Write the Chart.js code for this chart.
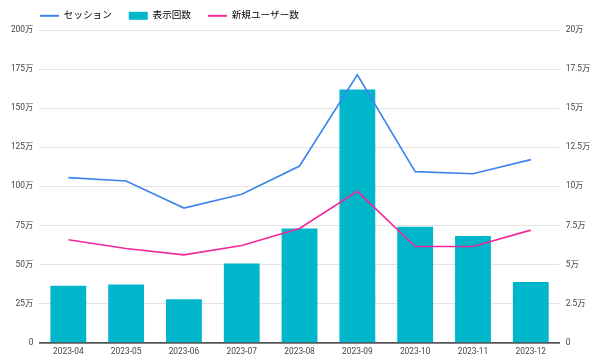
<!DOCTYPE html>
<html>
<head>
<meta charset="utf-8">
<script src="https://cdn.jsdelivr.net/npm/chart.js@4"></script>
<style>
  html, body { margin: 0; padding: 0; background: #fff; }
</style>
</head>
<body>
<canvas id="chart" width="600" height="362"></canvas>
<script>
// 月
const months = ["2023-04", "2023-05", "2023-06", "2023-07", "2023-08", "2023-09", "2023-10", "2023-11", "2023-12"];
// 表示回数 (万) - 左軸
const views = [36.5, 37.2, 27.8, 50.6, 73.1, 162, 74.2, 68.2, 38.9];
// セッション (万) - 右軸
const sessions = [10.56, 10.34, 8.61, 9.49, 11.3, 17.14, 10.94, 10.81, 11.71];
// 新規ユーザー数 (万) - 右軸
const newUsers = [6.58, 6.03, 5.62, 6.22, 7.31, 9.68, 6.15, 6.15, 7.2];

const fontFamily = "Roboto, 'Noto Sans CJK JP', sans-serif";
const tickFont = { family: fontFamily, size: 8.4 };

// 凡例の位置調整
const legendShift = {
  id: "legendShift",
  beforeLayout(chart) {
    const lg = chart.legend;
    if (lg && !lg._patched) {
      const fit = lg.fit;
      lg.fit = function () {
        fit.call(this);
        this.height = 30;
      };
      lg._patched = true;
    }
  },
  afterLayout(chart) {
    chart.legend.left += 23;
    chart.legend.top = -6;
  },
};

new Chart(document.getElementById("chart"), {
  type: "bar",
  plugins: [legendShift],
  data: {
    labels: months,
    datasets: [
      {
        type: "line",
        label: "セッション",
        data: sessions,
        yAxisID: "y1",
        borderColor: "#3d84f0",
        backgroundColor: "#3d84f0",
        borderWidth: 1.6,
        pointRadius: 0,
        tension: 0,
        order: 1,
      },
      {
        type: "bar",
        label: "表示回数",
        data: views,
        yAxisID: "y",
        backgroundColor: "#00b6cb",
        borderColor: "#00b6cb",
        categoryPercentage: 1,
        barPercentage: 0.62,
        order: 2,
      },
      {
        type: "line",
        label: "新規ユーザー数",
        data: newUsers,
        yAxisID: "y1",
        borderColor: "#f0289a",
        backgroundColor: "#f0289a",
        borderWidth: 1.6,
        pointRadius: 0,
        tension: 0,
        order: 1,
      },
    ],
  },
  options: {
    responsive: false,
    animation: false,
    layout: { padding: 0 },
    plugins: {
      tooltip: { enabled: false },
      legend: {
        position: "top",
        align: "start",
        labels: {
          usePointStyle: true,
          pointStyleWidth: 19,
          boxHeight: 8,
          padding: 17,
          color: "#333",
          font: { family: fontFamily, size: 9.6 },
          generateLabels(chart) {
            return chart.data.datasets.map((ds, i) => ({
              text: ds.label,
              fillStyle: ds.backgroundColor,
              strokeStyle: ds.borderColor,
              lineWidth: ds.type === "line" ? 2 : 0,
              pointStyle: ds.type === "line" ? "line" : "rect",
              hidden: !chart.isDatasetVisible(i),
              datasetIndex: i,
            }));
          },
        },
      },
    },
    scales: {
      x: {
        grid: { display: false, drawTicks: false },
        border: { display: true, color: "#555", width: 1.8 },
        ticks: { color: "#444", font: tickFont, padding: 4, maxRotation: 0 },
        afterFit: (s) => { s.height = 19.3; },
      },
      y: {
        position: "left",
        min: 0,
        max: 200,
        grid: { color: "#e3e3e3", lineWidth: 1, drawTicks: false },
        border: { display: false },
        ticks: {
          stepSize: 25,
          color: "#444",
          padding: 6,
          font: tickFont,
          callback: (v) => (v === 0 ? "0" : v + "万"),
        },
        afterFit: (s) => { s.width = 39.4; },
      },
      y1: {
        position: "right",
        min: 0,
        max: 20,
        grid: { display: false, drawTicks: false },
        border: { display: false },
        ticks: {
          stepSize: 2.5,
          color: "#444",
          padding: 6,
          font: tickFont,
          callback: (v) => (v === 0 ? "0" : v + "万"),
        },
        afterFit: (s) => { s.width = 40.3; },
      },
    },
  },
});
</script>
</body>
</html>
